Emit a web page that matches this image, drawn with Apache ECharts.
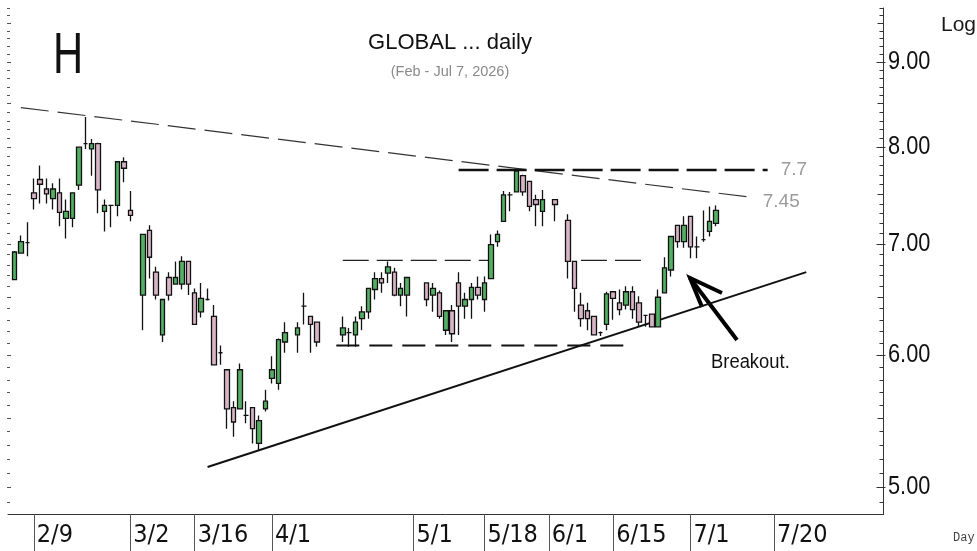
<!DOCTYPE html>
<html><head><meta charset="utf-8">
<script src="https://cdn.jsdelivr.net/npm/echarts@6/dist/echarts.min.js"></script>
<style>html,body{margin:0;padding:0;background:#fff}#c{width:977px;height:551px}</style>
</head><body><div id="c"></div>
<script>
// ---- data ----
const firstDay = [2026, 1, 3];          // weekday slots start Tue 2026-02-03
const slotCount = 137;                  // weekday slots on the axis (through late July)
const labelDates = ['2/9','3/2','3/16','4/1','5/1','5/18','6/1','6/15','7/1','7/20'];

const openV  = [null,6.66,6.91,7.01,7.51,7.65,7.55,7.45,7.51,7.25,7.25,7.59,8.04,7.98,8.04,7.32,7.38,7.38,7.84,7.33,
  null,6.52,7.13,6.73,6.17,6.68,6.62,6.62,6.83,6.54,6.37,6.48,6.33,6.02,5.88,5.58,5.57,5.52,5.58,5.31,
  5.57,5.81,5.77,6.11,null,6.17,6.42,6.33,6.28,null,null,null,6.17,6.19,6.17,6.31,6.37,6.57,6.67,6.72,
  6.73,6.52,6.52,null,null,6.63,6.52,6.54,6.21,6.38,6.63,6.42,6.48,6.59,6.48,6.67,7.02,7.22,7.49,7.52,
  7.69,7.63,7.44,7.32,null,7.44,null,7.23,6.83,6.43,6.38,6.33,6.19,6.26,6.55,6.45,6.43,6.55,6.45,6.34,
  6.35,6.24,6.54,6.75,7.18,7.02,7.27,6.97,7.04,7.12,7.20];
const highV  = [null,6.93,7.08,7.21,7.66,7.80,7.66,7.61,7.66,7.44,7.51,8.00,8.34,8.09,8.05,7.44,7.38,7.84,7.89,7.53,
  null,7.09,7.18,6.78,6.48,6.73,6.83,6.88,6.83,6.58,6.63,6.58,6.43,6.08,5.88,5.63,5.93,5.63,5.58,5.52,
  5.72,5.99,6.14,6.28,null,6.28,6.54,6.33,6.28,null,null,null,6.33,6.23,6.33,6.42,6.58,6.73,6.73,6.83,
  6.77,6.63,6.68,null,null,6.63,6.63,6.56,6.38,6.43,6.73,6.54,6.63,6.69,6.69,7.09,7.13,7.53,7.52,7.74,
  7.70,7.63,7.49,7.54,null,7.44,null,7.29,6.83,6.54,6.45,6.33,6.20,6.55,6.55,6.57,6.60,6.60,6.51,6.34,
  6.35,6.57,6.87,7.07,7.18,7.27,7.27,7.07,7.33,7.37,7.38];
const lowV   = [null,6.66,6.91,6.88,7.34,7.40,7.40,7.34,7.17,7.05,7.16,7.54,7.98,7.69,7.30,7.12,7.16,7.27,7.62,7.22,
  null,6.21,6.67,6.48,6.11,6.47,6.62,6.57,6.52,6.26,6.32,6.47,5.92,5.92,5.42,5.36,5.57,5.46,5.31,5.26,
  5.55,5.77,5.72,6.02,null,6.02,6.26,6.02,6.07,null,null,null,6.11,6.07,6.07,6.21,6.31,6.48,6.54,6.63,
  6.51,6.42,6.33,null,null,6.42,6.37,6.31,6.17,6.11,6.17,6.31,6.31,6.48,6.37,6.67,6.97,7.22,7.32,7.52,
  7.48,7.32,7.17,7.17,null,7.22,null,6.67,6.37,6.24,6.21,6.17,6.16,6.21,6.30,6.34,6.39,6.31,6.24,6.24,
  6.24,6.24,6.54,6.69,6.96,6.96,6.86,6.86,7.02,7.07,7.17];
const closeV = [null,6.92,7.02,7.01,7.45,7.60,7.50,7.55,7.31,7.32,7.51,8.00,8.04,8.04,7.54,7.38,7.38,7.84,7.77,7.28,
  null,7.09,6.87,6.52,6.48,6.52,6.68,6.83,6.62,6.26,6.49,6.48,5.92,6.02,5.57,5.47,5.88,5.52,5.42,5.48,
  5.63,5.88,6.13,6.19,null,6.23,6.42,6.26,6.11,null,null,null,6.23,6.19,6.28,6.37,6.58,6.67,6.63,6.78,
  6.52,6.58,6.68,null,null,6.48,6.58,6.33,6.38,6.18,6.42,6.48,6.59,6.52,6.63,6.99,7.09,7.49,7.49,7.74,
  7.52,7.37,7.39,7.44,null,7.39,null,6.83,6.58,6.31,6.31,6.17,6.19,6.53,6.49,6.39,6.55,6.39,6.28,6.34,
  6.24,6.50,6.77,7.07,7.02,7.18,6.97,6.97,7.04,7.22,7.33];

// drawn lines (date, value)
const resistDates = ['2/5', '7/15'];   const resistVals = [8.45, 7.46];
const supportDates = ['3/18', '7/27'];  const supportVals = [5.14, 6.73];
const top77Dates = ['5/12', '7/17'];    const top77Vals = [7.75, 7.75];
const midADates = ['4/16', '5/19'];     const midAVals = [6.84, 6.84];
const midBDates = ['6/8', '6/22'];      const midBVals = [6.84, 6.84];
const baseDates = ['4/15', '6/17'];     const baseVals = [6.08, 6.08];
const yLabelValues = [5, 6, 7, 8, 9];

// ---- build categories (weekdays) ----
const cats = [];
{
  const d = new Date(firstDay[0], firstDay[1], firstDay[2]);
  while (cats.length < slotCount) {
    const wd = d.getDay();
    if (wd !== 0 && wd !== 6) cats.push((d.getMonth() + 1) + '/' + d.getDate());
    d.setDate(d.getDate() + 1);
  }
}
const labelSet = new Set(labelDates);
const candleData = cats.map((c, i) => (i < openV.length && openV[i] != null)
  ? [openV[i], closeV[i], lowV[i], highV[i]] : '-');

const pairs = (ds, vs) => ds.map((d, i) => [d, vs[i]]);

const GL = 8, GR = 93.5, GT = 8, GB = 36.5;
const W = 977, H = 551;
const narrow = "'Liberation Sans Narrow', 'Arial Narrow', 'DejaVu Sans Condensed', 'Liberation Sans', sans-serif";

const chart = echarts.init(document.getElementById('c'), null, { renderer: 'canvas' });

function lineSeries(data, style, endLabel) {
  const s = { type: 'line', data, symbol: 'none', silent: true, animation: false, z: 1,
    lineStyle: style, clip: false };
  if (endLabel) s.endLabel = endLabel;
  return s;
}

const option = {
  animation: false,
  backgroundColor: '#fff',
  grid: { left: GL, right: GR, top: GT, bottom: GB, containLabel: false },
  xAxis: {
    type: 'category', data: cats, boundaryGap: false,
    axisLine: { show: true, onZero: false, lineStyle: { color: '#333', width: 1 } },
    axisTick: { show: true, interval: (i, v) => labelSet.has(v), length: 37, lineStyle: { color: '#555', width: 1 } },
    axisLabel: { show: true, interval: (i, v) => labelSet.has(v), align: 'left', verticalAlign: 'middle',
      margin: 21, padding: [0, 0, 0, 3], fontSize: 25, fontFamily: narrow, color: '#111' },
    splitLine: { show: false }
  },
  yAxis: {
    type: 'log', logBase: 10, min: 4.813, max: 9.698, position: 'right',
    axisLine: { show: true, lineStyle: { color: '#333', width: 1 } },
    axisTick: { show: false }, axisLabel: { show: false }, splitLine: { show: false }
  },
  series: [
    lineSeries(pairs(resistDates, resistVals), { color: '#333', width: 1.2, type: [28, 9] },
      { show: true, formatter: '7.45', color: '#9a9a9a', fontSize: 19, fontFamily: 'Liberation Sans', distance: 8, offset: [0, 4] }),
    lineSeries(pairs(supportDates, supportVals), { color: '#111', width: 2, type: 'solid' }),
    lineSeries(pairs(top77Dates, top77Vals), { color: '#111', width: 2.5, type: [30, 8] },
      { show: true, formatter: '7.7', color: '#9a9a9a', fontSize: 19, fontFamily: 'Liberation Sans', distance: 13 }),
    lineSeries(pairs(midADates, midAVals), { color: '#222', width: 1.2, type: [26, 8] }),
    lineSeries(pairs(midBDates, midBVals), { color: '#222', width: 1.2, type: [26, 8] }),
    lineSeries(pairs(baseDates, baseVals), { color: '#111', width: 2, type: [23, 10] }),
    {
      type: 'candlestick', data: candleData, barWidth: 5, z: 3,
      itemStyle: { color: '#54ae64', color0: '#d8b5c5', borderColor: '#111', borderColor0: '#111',
        borderColorDoji: '#111', borderWidth: 1.3 }
    }
  ]
};
chart.setOption(option);

// ---- axis ticks / labels / annotations computed through the axes ----
const g = [];
const axisX = W - GR;
const yBottom = H - GB;
for (let k = 48; k <= 97; k++) {
  const v = k / 10;
  let y = chart.convertToPixel({ yAxisIndex: 0 }, v);
  if (y < GT - 0.5 || y > yBottom + 0.5) continue;
  y = Math.round(y) + 0.5;
  const major = k % 10 === 0, half = k % 5 === 0;
  const len = major ? 7 : (half ? 6 : 4);
  g.push({ type: 'line', silent: true, shape: { x1: axisX - len, y1: y, x2: axisX + (major ? 2 : 0), y2: y },
    style: { stroke: '#333', lineWidth: 1 } });
  const llen = half ? 4 : 3;
  g.push({ type: 'line', silent: true, shape: { x1: GL - 1, y1: y, x2: GL - 1 + llen, y2: y },
    style: { stroke: '#555', lineWidth: 1 } });
}
yLabelValues.forEach(v => {
  const y = chart.convertToPixel({ yAxisIndex: 0 }, v);
  g.push({ type: 'text', silent: true, x: axisX + 4.5, y: y, scaleX: 0.87,
    style: { text: v.toFixed(2), font: '25px "Liberation Sans", Arial, sans-serif', fill: '#111',
      align: 'left', verticalAlign: 'middle', textAlign: 'left', textVerticalAlign: 'middle' } });
});
function txt(text, x, y, font, fill, align, sx) {
  return { type: 'text', silent: true, x: x, y: y, scaleX: sx || 1,
    style: { text, font, fill, align: align || 'left', verticalAlign: 'middle',
      textAlign: align || 'left', textVerticalAlign: 'middle' } };
}
g.push(txt('H', 53, 57, '58px "Liberation Sans", Arial, sans-serif', '#111', 'left', 0.72));
g.push(txt('GLOBAL ... daily', 450, 43, '22px "Liberation Sans", Arial, sans-serif', '#111', 'center'));
g.push(txt('(Feb - Jul 7, 2026)', 450, 72, '14.5px "Liberation Sans", Arial, sans-serif', '#8a8a8a', 'center'));
g.push(txt('Log', 941, 25, '21px "Liberation Sans", Arial, sans-serif', '#1a1a1a', 'left'));
g.push(txt('Day', 953, 538, '12px "Liberation Mono", "DejaVu Sans Mono", monospace', '#444', 'left'));
g.push(txt('Breakout.', 711, 362, '20px "Liberation Sans", Arial, sans-serif', '#111', 'left', 0.92));
// arrow
g.push({ type: 'polyline', silent: true, shape: { points: [[737, 340], [690, 278]] },
  style: { stroke: '#000', lineWidth: 4, fill: null } });
g.push({ type: 'polyline', silent: true, shape: { points: [[702, 307], [690, 278], [722, 293]] },
  style: { stroke: '#000', lineWidth: 4, fill: null, lineJoin: 'miter' } });

chart.setOption({ graphic: g });
</script></body></html>
